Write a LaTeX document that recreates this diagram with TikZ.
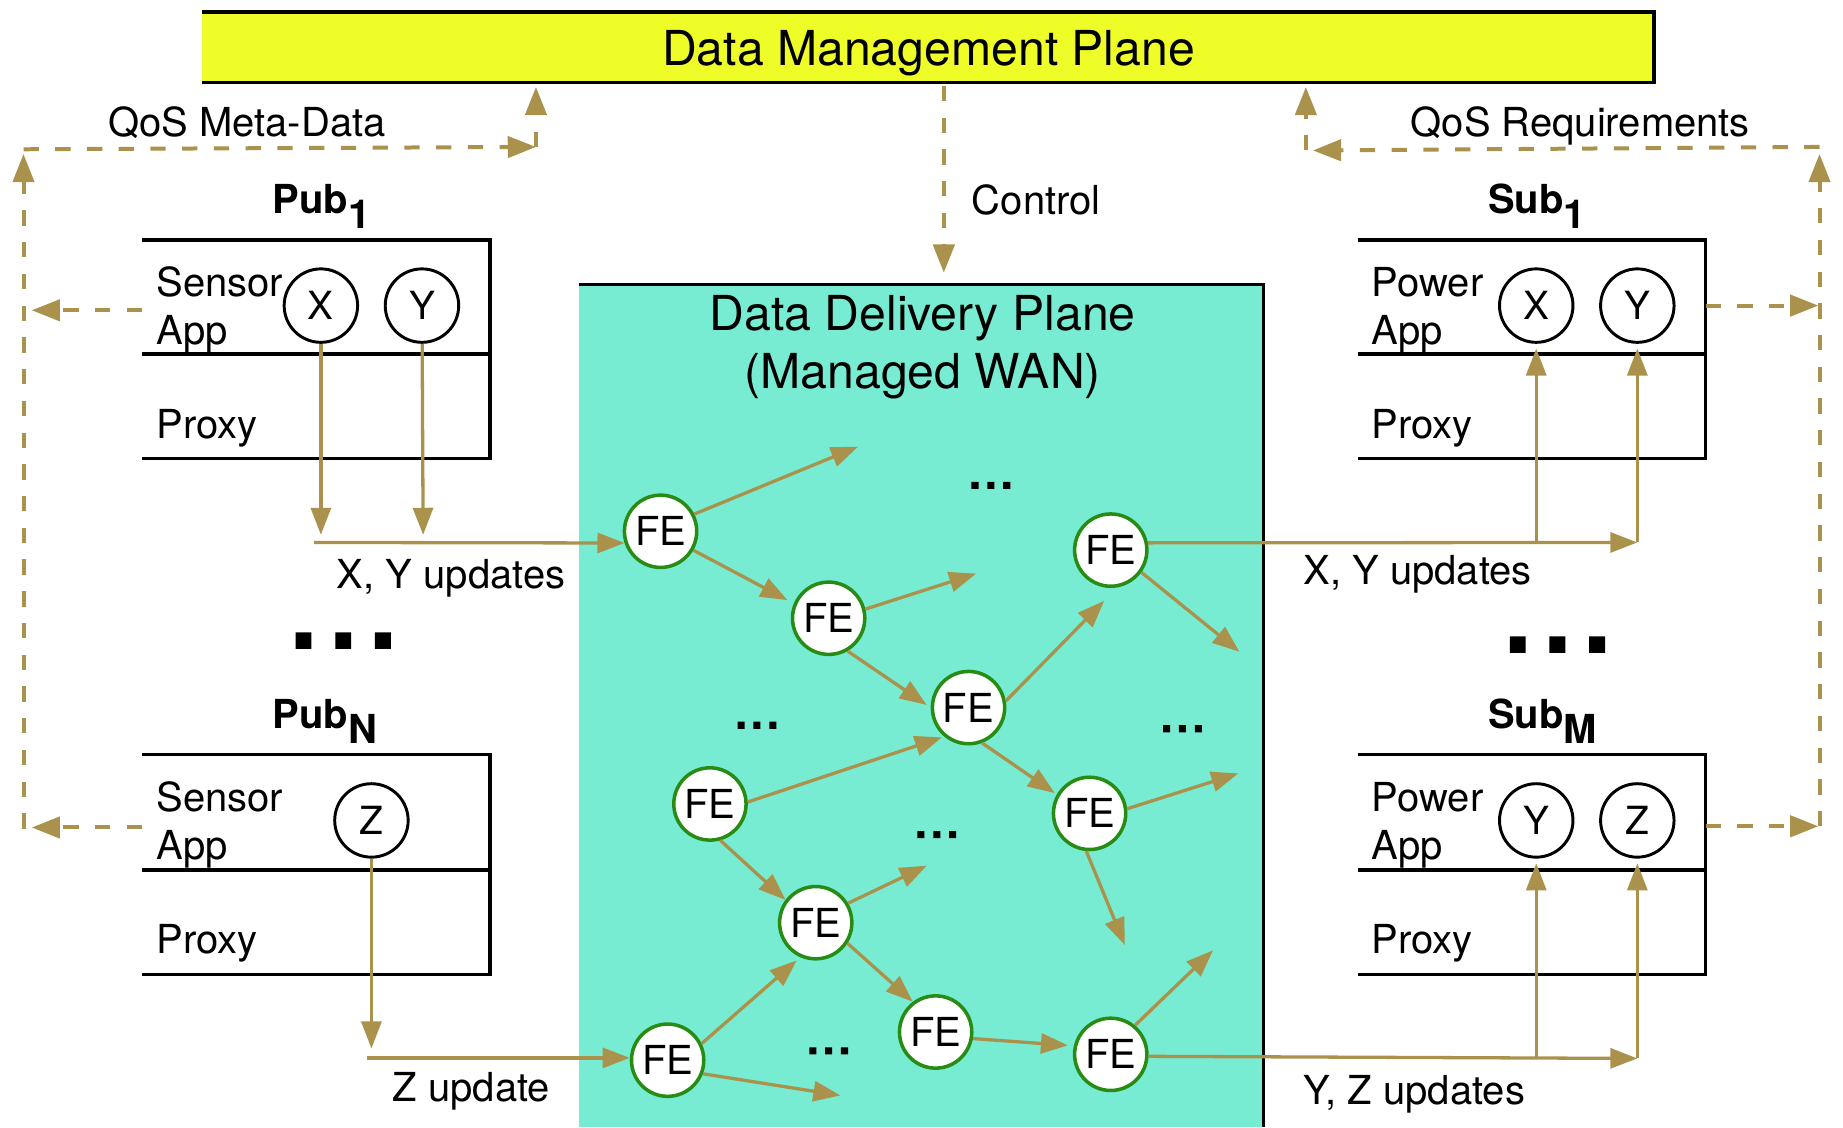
\documentclass[tikz,border=0pt]{standalone}
\usepackage{fontspec}
\setmainfont{TeX Gyre Heros}
\usetikzlibrary{arrows.meta}
\definecolor{mgmtyellow}{RGB}{238,253,40}
\definecolor{wancyan}{RGB}{120,236,210}
\definecolor{flowgold}{RGB}{170,146,76}
\definecolor{fegreen}{RGB}{40,140,20}
\begin{document}
\begin{tikzpicture}[x=1pt,y=-1pt,
  lbl/.style={inner sep=0, anchor=base west, font=\fontsize{34}{40}\selectfont},
  bold lbl/.style={lbl, font=\fontsize{34}{40}\selectfont\bfseries},
  big/.style={inner sep=0, anchor=base, font=\fontsize{41}{48}\selectfont},
  var/.style={circle, draw=black, line width=2.5pt, minimum size=62.5pt, inner sep=0, font=\fontsize{33}{40}\selectfont},
  fe/.style={circle, draw=fegreen, line width=3pt, fill=white, minimum size=61.5pt, inner sep=0, font=\fontsize{34}{40}\selectfont},
  flow/.style={draw=flowgold, line width=2.8pt, -{Triangle[length=23pt,width=17pt]}},
  ctrl/.style={draw=flowgold, line width=3.4pt, dash pattern=on 13pt off 14pt, -{Triangle[length=24pt,width=18pt]}},
  ctrlline/.style={draw=flowgold, line width=3.4pt, dash pattern=on 13pt off 14pt},
  plane/.style={draw=black, line width=3pt},
  dotsS/.pic={\fill[black] (-16.5,-3) rectangle ++(6,6) (-3,-3) rectangle ++(6,6) (10.5,-3) rectangle ++(6,6);},
  dotsL/.pic={\fill[black] (-40.5,-7) rectangle ++(13.5,14) (-6.75,-7) rectangle ++(13.5,14) (27,-7) rectangle ++(13.5,14);},
  ]
\useasboundingbox (0,0) rectangle (1568,959);

% ---------- planes ----------
\fill[mgmtyellow] (172,10) rectangle (1407,70);
\draw[plane] (172,10) -- (1407,10) -- (1407,70) -- (172,70);
\node[big] (dmp) at (790,55.5) {Data Management Plane};

\fill[wancyan] (493,242) rectangle (1075,959);
\draw[plane] (493,242) -- (1075,242) -- (1075,959);
\node[big] (ddp1) at (785,281.5) {Data Delivery Plane};
\node[big] (ddp2) at (785,330.5) {(Managed WAN)};

% ---------- publisher / subscriber boxes ----------
\draw[plane] (121,204) -- (417,204) -- (417,390) -- (121,390) (121,301) -- (417,301);
\draw[plane] (121,642) -- (417,642) -- (417,829) -- (121,829) (121,740) -- (417,740);
\draw[plane] (1155,204) -- (1451,204) -- (1451,390) -- (1155,390) (1155,301) -- (1451,301);
\draw[plane] (1155,642) -- (1451,642) -- (1451,829) -- (1155,829) (1155,740) -- (1451,740);

\node[bold lbl] (pub1) at (232,181.5) {Pub\raisebox{-13pt}{1}};
\node[bold lbl] (pubN) at (232,619.5) {Pub\raisebox{-13pt}{N}};
\node[bold lbl] (sub1) at (1266,181.5) {Sub\raisebox{-13pt}{1}};
\node[bold lbl] (subM) at (1266,619.5) {Sub\raisebox{-13pt}{M}};

\node[lbl] (p1a) at (133,252) {Sensor};
\node[lbl] (p1b) at (133,293) {App};
\node[lbl] (p1c) at (133,373) {Proxy};
\node[lbl] (pNa) at (133,690) {Sensor};
\node[lbl] (pNb) at (133,731) {App};
\node[lbl] (pNc) at (133,811) {Proxy};
\node[lbl] (s1a) at (1167,252) {Power};
\node[lbl] (s1b) at (1167,293) {App};
\node[lbl] (s1c) at (1167,373) {Proxy};
\node[lbl] (sMa) at (1167,690) {Power};
\node[lbl] (sMb) at (1167,731) {App};
\node[lbl] (sMc) at (1167,811) {Proxy};

\node[var] (p1x) at (273,260) {X};
\node[var] (p1y) at (359,260) {Y};
\node[var] (pNz) at (316,698) {Z};
\node[var] (s1x) at (1307,260) {X};
\node[var] (s1y) at (1393,260) {Y};
\node[var] (sMy) at (1307,698) {Y};
\node[var] (sMz) at (1393,698) {Z};

\pic at (292,545) {dotsL};
\pic at (1325,548.5) {dotsL};

% ---------- forwarding engines ----------
\node[fe] (feA) at (562,452) {FE};
\node[fe] (feB) at (705,526) {FE};
\node[fe] (feC) at (824,602) {FE};
\node[fe] (feD) at (945,468) {FE};
\node[fe] (feE) at (604,684) {FE};
\node[fe] (feF) at (927,692) {FE};
\node[fe] (feG) at (694,785) {FE};
\node[fe] (feH) at (796,878) {FE};
\node[fe] (feI) at (568,902) {FE};
\node[fe] (feJ) at (945,897) {FE};

\pic at (843,413) {dotsS};
\pic at (644,617) {dotsS};
\pic at (797,710) {dotsS};
\pic at (1006,620) {dotsS};
\pic at (705,894) {dotsS};

% dangling ends
\coordinate (tA) at (730,380);
\coordinate (tB) at (830.5,488);
\coordinate (tD) at (1054.5,554.5);
\coordinate (tF1) at (1053.5,658);
\coordinate (tF2) at (957,804);
\coordinate (tG) at (788.5,736.5);
\coordinate (tI) at (715,932);
\coordinate (tJ) at (1032,808.5);

\draw[flow] (feA.27) -- (tA);
\draw[flow, shorten >=6pt] (feA.-30) -- (feB.157);
\draw[flow] (feB.14) -- (tB);
\draw[flow, shorten >=4pt] (feB.-60) -- (feC.180);
\draw[flow, shorten >=16pt] (feC.10) -- (feD.280);
\draw[flow, shorten >=2pt] (feC.-69) -- (feF.150);
\draw[flow] (feD.-36) -- (tD);
\draw[flow, shorten >=2pt] (feE.3) -- (feC.230);
\draw[flow] (feE.-74) -- (feG.143);
\draw[flow] (feF.7) -- (tF1);
\draw[flow] (feF.-95) -- (tF2);
\draw[flow] (feG.31) -- (tG);
\draw[flow] (feG.-33) -- (feH.127);
\draw[flow, shorten >=4pt] (feI.26) -- (feG.246);
\draw[flow] (feI.-21) -- (tI);
\draw[flow, shorten >=5pt] (feH.-10) -- (feJ.167);
\draw[flow] (feJ.50) -- (tJ);

% ---------- publisher flows ----------
\coordinate (p1xd) at (273,455);
\coordinate (p1yd) at (360,455);
\coordinate (xyL) at (267,461.5);
\draw[flow] (p1x) -- (p1xd);
\draw[flow] (p1y) -- (p1yd);
\draw[flow] (xyL) -- (feA.198);
\node[lbl] (xyLl) at (286.5,500.5) {X, Y updates};

\coordinate (pNzd) at (316,892);
\coordinate (zL) at (312,900);
\draw[flow] (pNz) -- (pNzd);
\draw[flow] (zL) -- (zL -| feI.west);
\node[lbl] (zLl) at (334,937.3) {Z update};

% ---------- subscriber flows ----------
\coordinate (xyR) at (1393,461.5);
\draw[flow] (feD.11) -- (xyR);
\draw[flow, shorten >=4pt] (s1x |- xyR) -- (s1x.south);
\draw[flow, shorten >=4pt] (xyR) -- (s1y.south);
\node[lbl] (xyRl) at (1108.8,497.7) {X, Y updates};

\coordinate (yzR) at (1393,900.5);
\draw[flow] (feJ.-3) -- (yzR);
\draw[flow, shorten >=4pt] (sMy |- yzR) -- (sMy.south);
\draw[flow, shorten >=4pt] (yzR) -- (sMz.south);
\node[lbl] (yzRl) at (1108.8,939.3) {Y, Z updates};

% ---------- control / QoS (dashed) ----------
\coordinate (ctlTop) at (803,73);
\coordinate (ctlBot) at (803,232);
\draw[ctrl] (ctlTop) -- (ctlBot);
\node[lbl] (ctl) at (826.7,182.3) {Control};

\coordinate (lBot) at (20,705);
\coordinate (lTop) at (20,127);
\coordinate (lMid) at (456,125);
\coordinate (lUp) at (456,74);
\draw[ctrl] (121,264) -- (27,264);
\draw[ctrl] (121,704) -- (27,704);
\draw[ctrl] (lBot) -- (20,131);
\draw[ctrl] (lTop) -- (lMid);
\draw[ctrl] (lMid) -- (lUp);
\node[lbl] (qmd) at (92,116) {QoS Meta-Data};

\coordinate (rBot) at (1548,703);
\coordinate (rTop) at (1548,125);
\coordinate (rMid) at (1111,128);
\coordinate (rUp) at (1111,74);
\draw[ctrl] (1451,260) -- (1547,260);
\draw[ctrl] (1451,703) -- (1547,703);
\draw[ctrl] (rBot) -- (1548,131);
\draw[ctrl] (rTop) -- (1117,128);
\draw[ctrl] (rMid) -- (rUp);
\node[lbl] (qreq) at (1200,116) {QoS Requirements};
\end{tikzpicture}
\end{document}
